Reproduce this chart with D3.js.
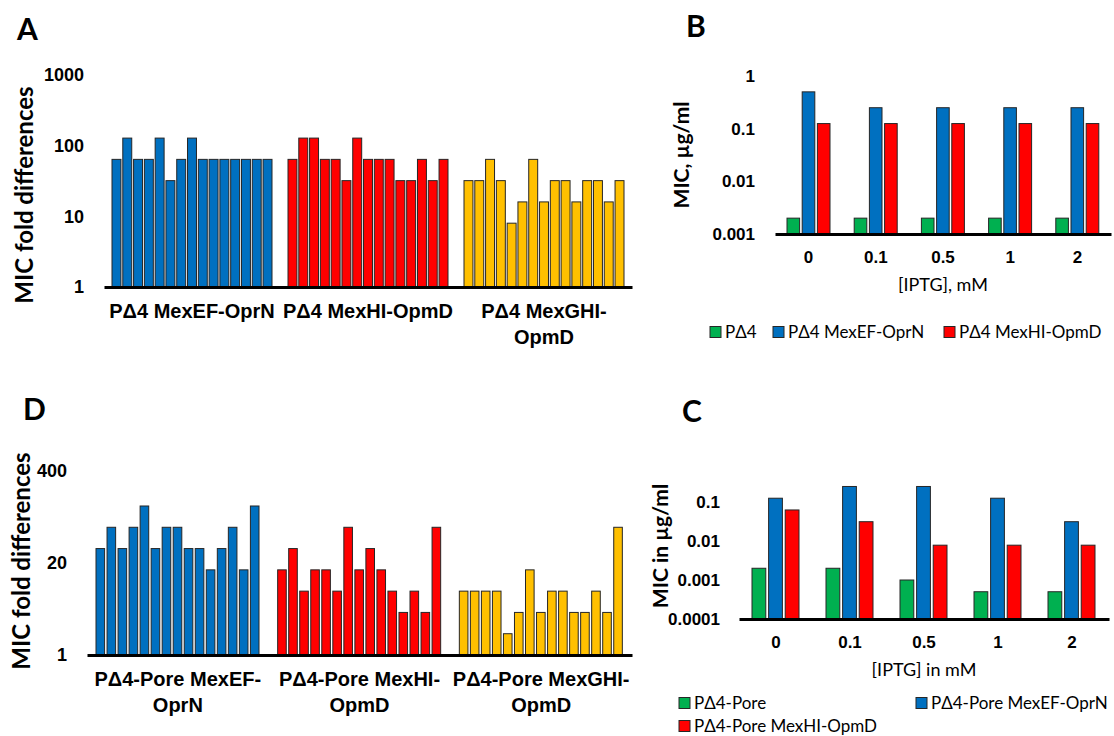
<!DOCTYPE html>
<html lang="en">
<head>
  <meta charset="utf-8">
  <title>MIC panels</title>
  <style>
    body   { margin: 0; background: #fff; }
    svg    { display: block; font-family: Lato, "Open Sans", sans-serif; }
    .letter { font-weight: bold; font-size: 30px; }
    .bar   { stroke: #262626; stroke-width: 1; }
  </style>
</head>
<body>
<script src="https://d3js.org/d3.v7.min.js"></script>
<script>
  //--------------------------------------------------------------------------
  // data
  var groupsA = ["PΔ4 MexEF-OprN", "PΔ4 MexHI-OpmD", "PΔ4 MexGHI-OpmD"];
  var foldA_EF  = [64, 128, 64, 64, 128, 32, 64, 128, 64, 64, 64, 64, 64, 64, 64];
  var foldA_HI  = [64, 128, 128, 64, 64, 32, 128, 64, 64, 64, 32, 32, 64, 32, 64];
  var foldA_GHI = [32, 32, 64, 32, 8, 16, 64, 16, 32, 32, 16, 32, 32, 16, 32];
  var ticksA = [1, 10, 100, 1000];

  var groupsD = ["PΔ4-Pore MexEF-OprN", "PΔ4-Pore MexHI-OpmD", "PΔ4-Pore MexGHI-OpmD"];
  var foldD_EF  = [32, 64, 32, 64, 128, 32, 64, 64, 32, 32, 16, 32, 64, 16, 128];
  var foldD_HI  = [16, 32, 8, 16, 16, 8, 64, 16, 32, 16, 8, 4, 8, 4, 64];
  var foldD_GHI = [8, 8, 8, 8, 2, 4, 16, 4, 8, 8, 4, 4, 8, 4, 64];
  var ticksD = [1, 20, 400];

  var iptg = ["0", "0.1", "0.5", "1", "2"];

  var seriesB = ["PΔ4", "PΔ4 MexEF-OprN", "PΔ4 MexHI-OpmD"];
  var micB_P4 = [0.002, 0.002, 0.002, 0.002, 0.002];
  var micB_EF = [0.5, 0.25, 0.25, 0.25, 0.25];
  var micB_HI = [0.125, 0.125, 0.125, 0.125, 0.125];
  var ticksB = [0.001, 0.01, 0.1, 1];

  var seriesC = ["PΔ4-Pore", "PΔ4-Pore MexEF-OprN", "PΔ4-Pore MexHI-OpmD"];
  var micC_Pore = [0.002, 0.002, 0.001, 0.0005, 0.0005];
  var micC_EF   = [0.125, 0.25, 0.25, 0.125, 0.03125];
  var micC_HI   = [0.0625, 0.03125, 0.0078125, 0.0078125, 0.0078125];
  var ticksC = [0.0001, 0.001, 0.01, 0.1];

  var blue = "#0070C0", red = "#FF0000", yellow = "#FFC000", green = "#00B050";

  var svg = d3.select("body").append("svg")
      .attr("width", 1114)
      .attr("height", 736);

  // break a label after spaces / hyphens when it gets wider than maxWidth
  function wrap(text, maxWidth, lineHeight) {
    text.each(function() {
      var t = d3.select(this);
      var words = t.text().split(/(?<=[ -])/);
      var line = [];
      t.text(null);
      var tspan = t.append("tspan").attr("x", 0).attr("dy", "0.35em");
      words.forEach(function(w) {
        line.push(w);
        tspan.text(line.join("").trim());
        if (tspan.node().getComputedTextLength() > maxWidth && line.length > 1) {
          line.pop();
          tspan.text(line.join("").trim());
          line = [w];
          tspan = t.append("tspan").attr("x", 0).attr("dy", lineHeight).text(w.trim());
        }
      });
    });
  }

  function yTitle(label, x, y, size) {
    svg.append("text")
      .attr("transform", "translate(" + x + "," + y + ") rotate(-90)")
      .attr("text-anchor", "middle")
      .attr("dy", "0.35em")
      .style("font-weight", "bold")
      .style("font-size", size + "px")
      .text(label);
  }

  //--------------------------------------------------------------------------
  // A and D: fold-difference panels
  function foldPanel(p) {
    var y = d3.scaleLog().domain(p.yDomain).range(p.yRange);
    var x = d3.scaleBand().domain(p.groups).range(p.xRange);
    var xi = d3.scaleBand().domain(d3.range(p.series[0].length))
      .range(p.inner).paddingInner(p.pad);
    var base = p.yDomain[0];

    p.groups.forEach(function(g, gi) {
      svg.append("g")
        .selectAll("rect")
        .data(p.series[gi])
        .join("rect")
          .attr("class", "bar")
          .attr("fill", p.colors[gi])
          .attr("x", function(d, i) { return x(g) + xi(i); })
          .attr("y", function(d) { return y(d); })
          .attr("width", xi.bandwidth())
          .attr("height", function(d) { return y(base) - y(d); });
    });

    var ya = svg.append("g")
      .attr("transform", "translate(" + p.tickX + ",0)")
      .call(d3.axisLeft(y).tickValues(p.ticks).tickSize(0).tickPadding(0)
        .tickFormat(function(d) { return String(d); }));
    ya.select(".domain").remove();
    ya.selectAll("text").style("font-size", "18px").style("font-weight", "bold");

    var xa = svg.append("g")
      .attr("transform", "translate(0," + y(base) + ")")
      .call(d3.axisBottom(x).tickSize(0).tickSizeOuter(0));
    xa.select(".domain").attr("stroke", "#000").attr("stroke-width", 3);
    xa.selectAll("text")
      .attr("y", p.labelY)
      .style("font-size", "20px").style("font-weight", "bold")
      .call(wrap, x.bandwidth(), 26);

    yTitle("MIC fold differences", p.titleX, p.titleY, 24);
    svg.append("text").attr("class", "letter")
      .attr("x", p.letterX).attr("y", p.letterY).text(p.letter);
  }

  foldPanel({
    letter: "A", letterX: 17, letterY: 40,
    groups: groupsA, series: [foldA_EF, foldA_HI, foldA_GHI],
    colors: [blue, red, yellow],
    yDomain: [1, 1000], yRange: [287, 75], ticks: ticksA,
    xRange: [104, 632], inner: [8, 168], pad: 0.17,
    tickX: 84, labelY: 24, titleX: 25, titleY: 195
  });

  foldPanel({
    letter: "D", letterX: 23, letterY: 420,
    groups: groupsD, series: [foldD_EF, foldD_HI, foldD_GHI],
    colors: [blue, red, yellow],
    yDomain: [1, 400], yRange: [655, 471], ticks: ticksD,
    xRange: [87, 632], inner: [9, 172], pad: 0.22,
    tickX: 67, labelY: 24, titleX: 22, titleY: 561
  });

  //--------------------------------------------------------------------------
  // B and C: MIC vs IPTG panels
  function micPanel(p) {
    var y = d3.scaleLog().domain(p.yDomain).range(p.yRange);
    var x = d3.scaleBand().domain(iptg).range(p.xRange);
    var xi = d3.scaleBand().domain(d3.range(3)).range(p.inner).paddingInner(0.17);
    var colors = [green, blue, red];
    var base = p.yDomain[0];

    p.series.forEach(function(s, si) {
      svg.append("g")
        .selectAll("rect")
        .data(s)
        .join("rect")
          .attr("class", "bar")
          .attr("fill", colors[si])
          .attr("x", function(d, i) { return x(iptg[i]) + xi(si); })
          .attr("y", function(d) { return y(d); })
          .attr("width", xi.bandwidth())
          .attr("height", function(d) { return y(base) - y(d); });
    });

    var ya = svg.append("g")
      .attr("transform", "translate(" + p.tickX + ",0)")
      .call(d3.axisLeft(y).tickValues(p.ticks).tickSize(0).tickPadding(0)
        .tickFormat(function(d) { return String(d); }));
    ya.select(".domain").remove();
    ya.selectAll("text").style("font-size", "17px").style("font-weight", "bold");

    var xa = svg.append("g")
      .attr("transform", "translate(0," + y(base) + ")")
      .call(d3.axisBottom(x).tickSize(0).tickSizeOuter(0));
    xa.select(".domain").attr("stroke", "#000").attr("stroke-width", 3);
    xa.selectAll("text")
      .attr("y", 23).attr("dy", "0.35em")
      .style("font-size", "17px").style("font-weight", "bold");

    svg.append("text")
      .attr("x", p.xTitlePos[0]).attr("y", p.xTitlePos[1])
      .attr("text-anchor", "middle").attr("dy", "0.35em")
      .style("font-size", "18px")
      .text(p.xTitle);

    yTitle(p.yTitle, p.titleX, p.titleY, 21);
    svg.append("text").attr("class", "letter")
      .attr("x", p.letterX).attr("y", p.letterY).text(p.letter);

    // legend
    var lg = svg.append("g").selectAll("g")
      .data(p.names)
      .join("g")
        .attr("transform", function(d, i) {
          return "translate(" + p.legend[i][0] + "," + p.legend[i][1] + ")";
        });
    lg.append("rect")
      .attr("x", 0).attr("y", -5.5).attr("width", 11).attr("height", 11)
      .attr("fill", function(d, i) { return colors[i]; })
      .attr("stroke", "#262626");
    lg.append("text")
      .attr("x", 15).attr("dy", "0.35em")
      .style("font-size", "17px")
      .text(function(d) { return d; });
  }

  micPanel({
    letter: "B", letterX: 686, letterY: 37,
    series: [micB_P4, micB_EF, micB_HI], names: seriesB,
    yDomain: [0.001, 1], yRange: [234, 76], ticks: ticksB,
    xRange: [775, 1111], inner: [12, 55],
    tickX: 755, titleX: 682, titleY: 155, yTitle: "MIC, µg/ml",
    xTitle: "[IPTG], mM", xTitlePos: [943, 285],
    legend: [[710, 332], [773, 332], [944, 332]]
  });

  micPanel({
    letter: "C", letterX: 682, letterY: 422,
    series: [micC_Pore, micC_EF, micC_HI], names: seriesC,
    yDomain: [0.0001, 0.1], yRange: [619, 502], ticks: ticksC,
    xRange: [739, 1109], inner: [13, 60],
    tickX: 720, titleX: 661, titleY: 546, yTitle: "MIC in µg/ml",
    xTitle: "[IPTG] in mM", xTitlePos: [924, 670],
    legend: [[679, 703], [916, 703], [679, 726]]
  });

  //--------------------------------------------------------------------------
</script>
</body>
</html>
